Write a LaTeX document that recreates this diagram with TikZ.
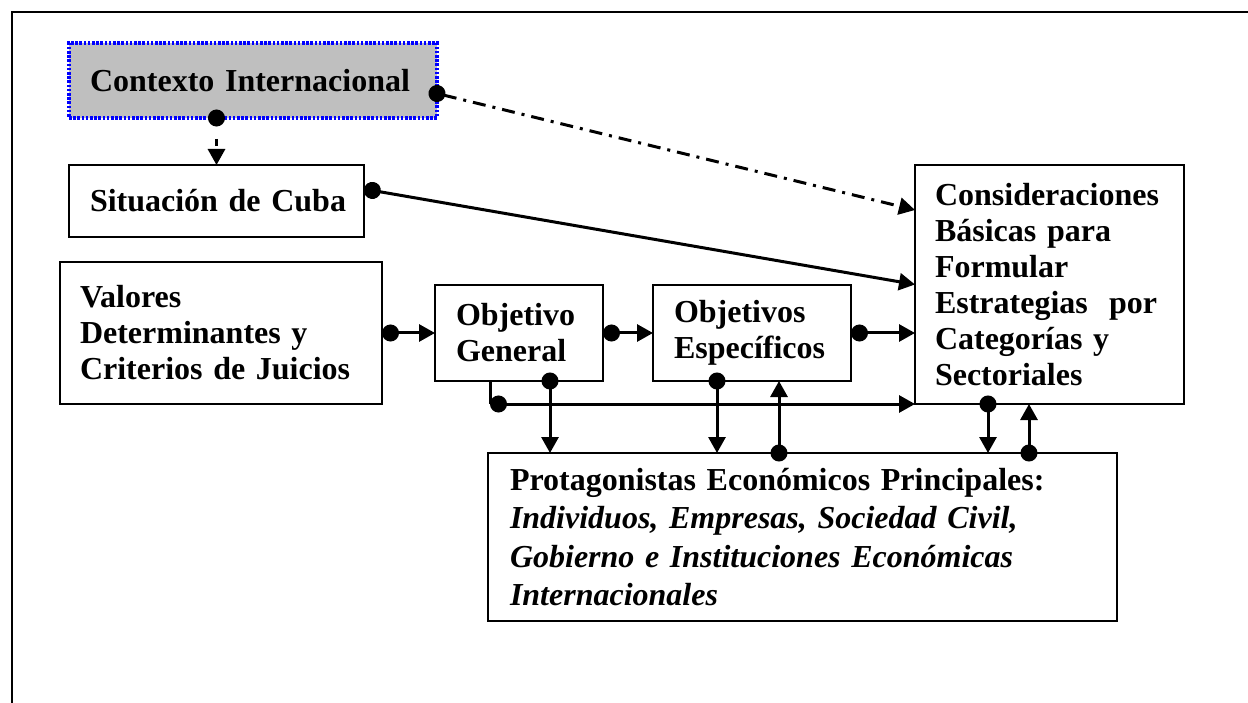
\documentclass[tikz,border=0pt]{standalone}
\usepackage{fontspec}
\setmainfont{Liberation Serif}
\usetikzlibrary{arrows.meta}
\begin{document}
\begin{tikzpicture}[x=1pt,y=-1pt,
  box/.style={draw,line width=2.6pt,anchor=north west,inner xsep=21pt,inner ysep=0pt,outer sep=0pt,
    align=left,font=\fontsize{32}{36}\selectfont\bfseries},
  plain/.style={line width=3pt,-{Triangle[length=16pt,width=17pt]}},
  link/.style={plain,{Circle[length=17pt]}-{Triangle[length=16pt,width=17pt]}},
  onedge/.style={shorten <=-8.5pt}]
\useasboundingbox (0,0) rectangle (1248,703);
\draw[line width=1.2pt] (12,703) -- (12,12) -- (1248,12);
% boxes
\node[box,fill=black!25,draw=blue,line width=3.2pt,dash pattern=on 2.6pt off 1.6pt,text width=326pt,minimum height=75pt] (ci) at (69,43) {Contexto Internacional};
\node[box,text width=253pt,minimum height=72pt] (sc) at (69,165) {\mbox{Situación de Cuba}};
\node[box,inner xsep=20pt,text width=282pt,minimum height=142pt] (vd) at (60,262) {Valores\\Determinantes y\\Criterios de Juicios};
\node[box,text width=126pt,minimum height=96pt] (og) at (435,285) {Objetivo\\General};
\node[box,text width=156pt,minimum height=96pt] (oe) at (653,285) {Objetivos\\Específicos};
\node[box,inner xsep=20pt,text width=229pt,minimum height=239pt] (cb) at (915,165) {Consideraciones\\Básicas para\\Formular\\Estrategias~ por\\Categorías y\\Sectoriales};
\node[box,inner xsep=22pt,text width=585pt,minimum height=168pt,font=\fontsize{32}{38.5}\selectfont\bfseries] (pe) at (488,453)
  {Protagonistas Económicos Principales:\\\itshape Individuos, Empresas, Sociedad Civil,\\\itshape Gobierno e Instituciones Económicas\\\itshape Internacionales};
% connectors
\draw[link,onedge,dash pattern=on 0pt off 14pt on 7pt off 30pt] (ci.south -| sc.north) -- (sc.north);
\draw[link,onedge,dash pattern=on 13pt off 7pt on 3pt off 7pt] ([yshift=-13pt]ci.east) -- ([yshift=-45pt]cb.north west);
\draw[link] ([yshift=12pt]sc.east) -- (cb.west);
\draw[link] (vd.east) -- (og.west);
\draw[link] (og.east) -- (oe.west);
\draw[link] (oe.east) -- (oe.east -| cb.west);
\coordinate (bend) at ([xshift=55pt]og.south west |- cb.south west);
\draw[line width=3pt] ([xshift=55pt]og.south west) -- (bend);
\draw[link] (bend) -- (cb.south west);
\draw[link,onedge] ([xshift=31pt]og.south) -- ([xshift=31pt]og.south |- pe.north);
\draw[link,onedge] ([xshift=-35pt]oe.south) -- ([xshift=-35pt]oe.south |- pe.north);
\draw[link,onedge] ([xshift=27pt]oe.south |- pe.north) -- ([xshift=27pt]oe.south);
\draw[link,onedge] ([xshift=-61.5pt]cb.south) -- ([xshift=-61.5pt]cb.south |- pe.north);
\draw[link,onedge] ([xshift=-20.5pt]cb.south |- pe.north) -- ([xshift=-20.5pt]cb.south);
\end{tikzpicture}
\end{document}
